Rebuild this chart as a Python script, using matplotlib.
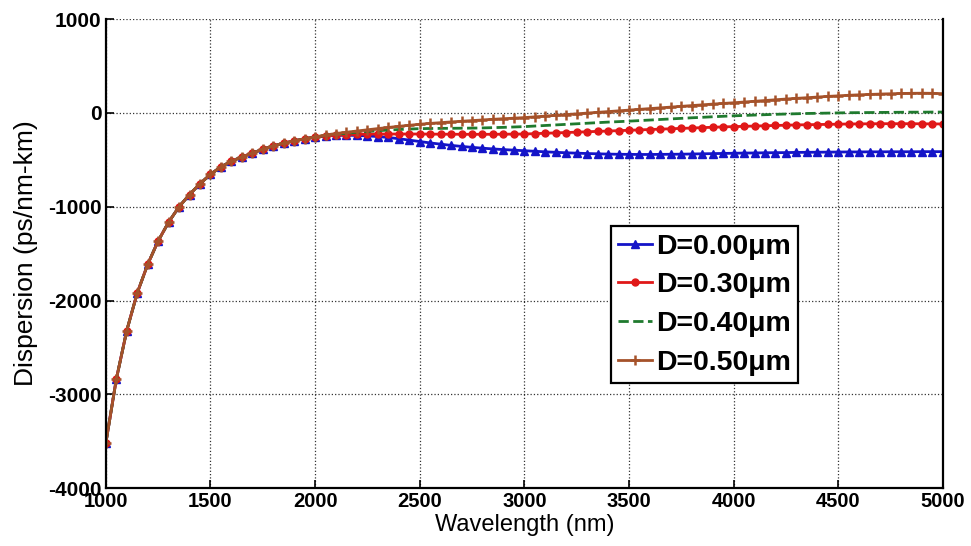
import numpy as np
import matplotlib
matplotlib.use('Agg')
import matplotlib.pyplot as plt
from matplotlib.ticker import MultipleLocator

plt.rcParams.update({
    'font.family': ['Liberation Sans', 'DejaVu Sans'],
    'axes.unicode_minus': False,
    'axes.linewidth': 1.6,
    'xtick.direction': 'in',
    'ytick.direction': 'in',
    'xtick.major.size': 6,
    'ytick.major.size': 6,
    'xtick.major.width': 1.2,
    'ytick.major.width': 1.2,
})

# wavelength grid (nm), one marker every 50 nm
wl = np.arange(1000, 5001, 50)

# 1000-2000 nm: all four curves coincide
disp_head = [-3520, -2840, -2320, -1920, -1615, -1365, -1165, -1000, -870, -755,
             -655, -575, -515, -470, -428, -388, -352, -322, -298, -276, -257]

# 2050-5000 nm per core diameter
tail_d000 = [-245, -240, -238, -240, -245, -252, -262, -275, -290, -305,
             -320, -333, -346, -357, -367, -376, -384, -391, -397, -403,
             -409, -415, -420, -425, -429, -433, -436, -439, -441, -442,
             -443, -443, -442, -441, -440, -438, -436, -434, -432, -430,
             -428, -427, -425, -424, -423, -421, -420, -419, -418, -417,
             -416, -416, -415, -415, -414, -414, -414, -413, -413, -413]
tail_d030 = [-245, -238, -232, -228, -226, -225, -225, -225, -225, -225,
             -226, -227, -227, -228, -228, -228, -228, -227, -226, -225,
             -221, -217, -213, -209, -205, -201, -197, -193, -189, -185,
             -181, -177, -173, -169, -165, -161, -157, -153, -149, -146,
             -143, -140, -137, -134, -131, -128, -126, -124, -122, -120,
             -118, -117, -116, -115, -115, -115, -115, -116, -117, -118]
tail_d040 = [-240, -228, -217, -207, -198, -190, -183, -177, -172, -168,
             -166, -165, -164, -163, -162, -160, -157, -154, -150, -146,
             -140, -134, -128, -122, -116, -110, -104, -98, -93, -88,
             -82, -76, -70, -64, -58, -52, -47, -41, -36, -31,
             -27, -23, -19, -15, -12, -9, -6, -4, -2, 0,
             2, 3, 4, 5, 6, 7, 8, 8, 9, 9]
tail_d050 = [-235, -220, -206, -193, -180, -167, -155, -143, -132, -121,
             -112, -104, -96, -89, -82, -75, -68, -62, -56, -50,
             -42, -34, -26, -18, -10, -2, 6, 14, 22, 30,
             38, 46, 54, 62, 70, 78, 86, 94, 101, 108,
             116, 124, 132, 140, 148, 155, 162, 169, 176, 182,
             188, 193, 197, 201, 204, 207, 209, 210, 209, 205]

labels = ['D=0.00\u03bcm', 'D=0.30\u03bcm', 'D=0.40\u03bcm', 'D=0.50\u03bcm']
tails = [tail_d000, tail_d030, tail_d040, tail_d050]
styles = [
    dict(color='#1414c8', linestyle='-', marker='^', markersize=5.5),
    dict(color='#e01818', linestyle='-', marker='o', markersize=5),
    dict(color='#1f7a2e', linestyle='--', marker=None),
    dict(color='#a5522a', linestyle='-', marker='+', markersize=6.5, markeredgewidth=1.8),
]

fig = plt.figure(figsize=(9.71, 5.46), dpi=100)
ax = fig.add_axes([0.109, 0.106, 0.862, 0.859])

for lab, tail, st in zip(labels, tails, styles):
    y = np.array(disp_head + tail)
    ax.plot(wl, y, linewidth=2.0, label=lab, **st)

ax.set_xlim(1000, 5000)
ax.set_ylim(-4000, 1000)
ax.xaxis.set_major_locator(MultipleLocator(500))
ax.yaxis.set_major_locator(MultipleLocator(1000))
ax.grid(True, color='black', linestyle=':', linewidth=0.9, alpha=0.8)
ax.spines['top'].set_visible(False)
ax.tick_params(axis='y', labelsize=15, pad=3)
ax.tick_params(axis='x', labelsize=14.5, pad=3)
for t in ax.get_xticklabels() + ax.get_yticklabels():
    t.set_fontweight('bold')

ax.set_xlabel('Wavelength (nm)', fontsize=17, labelpad=2)
ax.set_ylabel('Dispersion (ps/nm-km)', fontsize=19, labelpad=7)

leg = ax.legend(loc='upper left', bbox_to_anchor=(0.603, 0.558),
                prop={'weight': 'bold', 'size': 20.5}, fancybox=False,
                framealpha=1, edgecolor='black', handlelength=1.2,
                handletextpad=0.15, borderpad=0.25, labelspacing=0.45,
                borderaxespad=0)
leg.get_frame().set_linewidth(1.6)

fig.savefig('out.png', dpi=100)
